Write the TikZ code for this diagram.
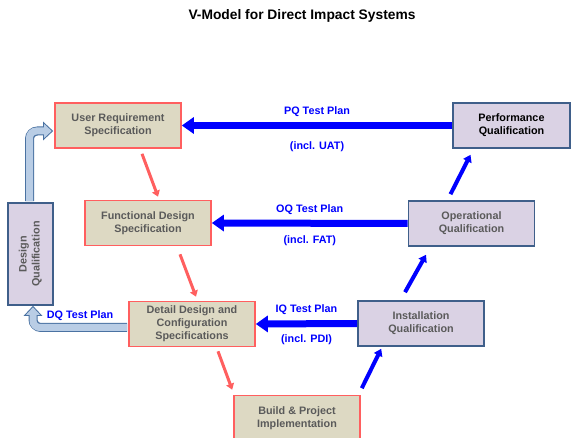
\documentclass[tikz,border=0pt]{standalone}
\usepackage{fontspec}
\setmainfont{Liberation Sans}
\usetikzlibrary{arrows.meta,calc}

\definecolor{specfill}{HTML}{DDD9C3}
\definecolor{specline}{HTML}{FF5F5F}
\definecolor{qualfill}{HTML}{DAD2E4}
\definecolor{qualline}{HTML}{3F5F8A}
\definecolor{boxtext}{HTML}{5A5A5A}
\definecolor{planblue}{HTML}{0000FF}
\definecolor{dqfill}{HTML}{B9CDE5}
\definecolor{dqline}{HTML}{4A72A2}

\begin{document}
\begin{tikzpicture}[x=1pt,y=-1pt,
    spec/.style={draw=specline,line width=1.6pt,fill=specfill,minimum width=126pt,
        minimum height=45pt,inner sep=0pt,align=center,text=boxtext,
        font=\fontsize{10.8}{13}\selectfont\bfseries},
    qual/.style={spec,draw=qualline,fill=qualfill},
    plan/.style={draw=planblue,line width=7pt,-{Triangle[length=12pt,width=16pt]}},
    planlabel/.style={text=planblue,font=\fontsize{10.8}{13}\selectfont\bfseries},
    godown/.style={draw=specline,line width=3pt,-{Triangle[length=6pt,width=8pt]}},
    goup/.style={draw=planblue,line width=4pt,-{Triangle[length=7pt,width=9pt]}},
    dqouter/.style={draw=dqline,line width=9pt,rounded corners=8pt,-{Triangle[length=10pt,width=18pt]}},
    dqinner/.style={draw=dqfill,line width=7pt,rounded corners=7pt,shorten >=1.5pt,-{Triangle[length=7.5pt,width=13.5pt]}}]
\useasboundingbox (0,0) rectangle (571,438);

\node[font=\fontsize{13.8}{16}\selectfont\bfseries] (title) at (302,16) {V-Model for Direct Impact Systems};

% specification side
\node[spec] (urs) at (118,125.5) {User Requirement\\Specification};
\node[spec] (fds) at (148,223) {Functional Design\\Specification};
\node[spec] (dds) at (192,324) {Detail Design and\\Configuration\\Specifications};
\node[spec] (bpi) at (297,418) {Build \& Project\\Implementation};

% qualification side
\node[qual,text=black,minimum width=117pt] (pq) at (511.5,125.5) {Performance\\Qualification};
\node[qual] (oq) at (471.5,223.5) {Operational\\Qualification};
\node[qual] (iq) at (421,323.5) {Installation\\Qualification};
\node[qual,minimum width=45pt,minimum height=102pt] (dq) at (30.5,254)
    {\rotatebox{90}{\begin{tabular}{@{}c@{}}Design\\Qualification\end{tabular}}};

% test plans
\draw[plan] (pq.west) -- (urs.east)
    node[planlabel,midway,yshift=13.5pt] {PQ Test Plan}
    node[planlabel,midway,yshift=-21pt] {(incl. UAT)};
\draw[plan] (oq.west) -- (fds.east)
    node[planlabel,midway,yshift=13.5pt] {OQ Test Plan}
    node[planlabel,midway,yshift=-17pt] {(incl. FAT)};
\draw[plan] (iq.west) -- (dds.east)
    node[planlabel,midway,yshift=14.5pt] {IQ Test Plan}
    node[planlabel,midway,yshift=-16pt] {(incl. PDI)};

% down the V
\draw[godown] ($(urs.south)+(24,5)$) -- ($(fds.north)+(10,-3)$);
\draw[godown] ($(fds.south)+(32,8)$) -- ($(dds.north)+(4,-4)$);
\draw[godown] ($(dds.south)+(26,4)$) -- ($(bpi.north west)+(-1,-5)$);

% up the V
\draw[goup] ($(bpi.north east)+(1,-6.5)$) -- ($(iq.south west)+(24,2)$);
\draw[goup] ($(iq.north)+(-16,-8)$) -- ($(oq.south)+(-45.5,8)$);
\draw[goup] ($(oq.north)+(-21,-6)$) -- ($(pq.south)+(-41,6)$);

% design qualification loop
\draw[dqouter] ($(dq.north)+(-1,-1)$) |- ($(urs.west)+(-1,5.5)$);
\draw[dqinner] ($(dq.north)+(-1,-1)$) |- ($(urs.west)+(-1,5.5)$);
\draw[dqouter] ($(dds.west)+(-1,3.5)$) -| ($(dq.south)+(2.5,0)$);
\draw[dqinner] ($(dds.west)+(-1,3.5)$) -| ($(dq.south)+(2.5,0)$)
    node[planlabel,pos=0.25,yshift=12pt] {DQ Test Plan};
\end{tikzpicture}
\end{document}
